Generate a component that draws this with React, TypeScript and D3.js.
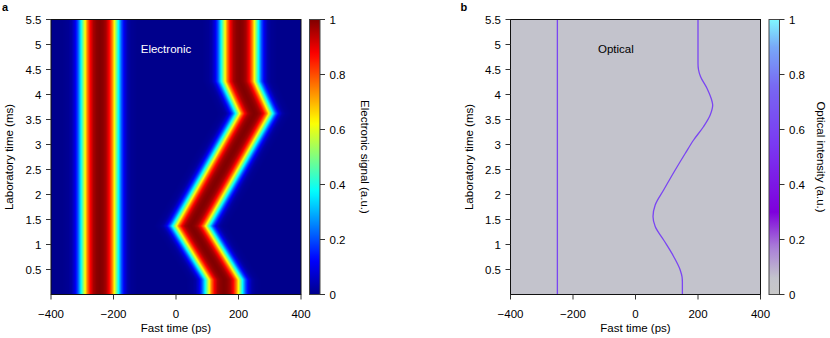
import React, { useMemo } from 'react';
import * as d3 from 'd3';

// axis ticks
const X_TICKS = [-400, -200, 0, 200, 400];
const Y_TICKS = [0.5, 1, 1.5, 2, 2.5, 3, 3.5, 4, 4.5, 5, 5.5];
const CB_TICKS = [0, 0.2, 0.4, 0.6, 0.8, 1];

// electronic signal: fixed pulse + moving pulse (lab time ms -> fast time ps)
const ELEC_FIXED = -244;
const ELEC_T = [0, 0.3, 1.37, 3.62, 4.26, 5.5];
const ELEC_X = [153, 153, 48, 251, 204, 204];
// pulse profile read across the trace (offset ps -> signal)
const PROFILE_DT = [0, 10, 20, 30, 40, 50, 60, 70, 80, 90, 100, 120];
const PROFILE_V = [1, 0.99, 0.96, 0.88, 0.75, 0.56, 0.37, 0.2, 0.09, 0.03, 0.01, 0];

// optical traces
const OPT_FIXED_T = [0, 5.5];
const OPT_FIXED_X = [-250, -250];
const OPT_T = [0, 0.25, 0.35, 0.49, 0.76, 1.09, 1.36, 1.56, 1.79, 2.09, 2.5, 2.82, 3.09, 3.36, 3.59, 3.79, 3.86, 4.12, 4.36, 4.5, 4.62, 5.5];
const OPT_X = [150, 150, 149, 143, 122, 90, 63, 56, 63, 90, 128, 159, 186, 218, 239, 247, 245, 229, 208, 201.5, 200, 200];
const OPT_BG = 0.06;
const OPT_LINE = 0.6;

// colour maps
const JET_STOPS = [0, 0.125, 0.375, 0.625, 0.875, 1];
const JET_COLORS = ['#00008c', '#0000ff', '#00ffff', '#ffff00', '#ff0000', '#800000'];
const OPT_STOPS = [0, 0.06, 0.17, 0.3, 0.55, 0.75, 0.9, 1];
const OPT_COLORS = ['#c8c8c8', '#c3c3cc', '#aa80d8', '#7e00dc', '#7a3af2', '#7866f2', '#78a8f8', '#80f8ff'];

const FONT = 'Liberation Sans, Arial, Helvetica, sans-serif';
const FS = 11.5;

const jet = d3.scaleLinear<string>().domain(JET_STOPS).range(JET_COLORS).interpolate(d3.interpolateRgb).clamp(true);
const optc = d3.scaleLinear<string>().domain(OPT_STOPS).range(OPT_COLORS).interpolate(d3.interpolateRgb).clamp(true);

const top = 19.5, bottom = 294.5;
const y = d3.scaleLinear().domain([0, 5.5]).range([bottom, top]);

function useHeatmap(x: d3.ScaleLinear<number, number>) {
  return useMemo(() => {
    const [x0, x1] = x.range();
    const w = Math.round(x1 - x0), h = Math.round(bottom - top);
    const canvas = document.createElement('canvas');
    canvas.width = w; canvas.height = h;
    const ctx = canvas.getContext('2d');
    if (!ctx) return '';
    const img = ctx.createImageData(w, h);
    const centre = d3.scaleLinear().domain(ELEC_T).range(ELEC_X).clamp(true);
    const prof = d3.scaleLinear().domain(PROFILE_DT).range(PROFILE_V).clamp(true);
    for (let j = 0; j < h; j++) {
      const t = y.invert(top + j + 0.5);
      const c = centre(t);
      for (let i = 0; i < w; i++) {
        const fx = x.invert(x0 + i + 0.5);
        const v = Math.max(prof(Math.abs(fx - ELEC_FIXED)), prof(Math.abs(fx - c)));
        const col = d3.rgb(jet(v));
        const k = (j * w + i) * 4;
        img.data[k] = col.r; img.data[k + 1] = col.g; img.data[k + 2] = col.b; img.data[k + 3] = 255;
      }
    }
    ctx.putImageData(img, 0, 0);
    return canvas.toDataURL();
  }, [x]);
}

function Axes({ x, id }: { x: d3.ScaleLinear<number, number>; id: string }) {
  const [x0, x1] = x.range();
  return (
    <g fontFamily={FONT} fontSize={FS} fill="#000">
      <rect x={x0} y={top} width={x1 - x0} height={bottom - top} fill="none" stroke="#111" strokeWidth={1} />
      {X_TICKS.map(v => (
        <g key={id + 'x' + v}>
          <line x1={x(v)} x2={x(v)} y1={bottom} y2={bottom + 5} stroke="#333" />
          <text x={x(v)} y={317.5} textAnchor="middle">{d3.format('')(v)}</text>
        </g>
      ))}
      {Y_TICKS.map(v => (
        <g key={id + 'y' + v}>
          <line x1={x0 - 5} x2={x0} y1={y(v)} y2={y(v)} stroke="#333" />
          <text x={x0 - 9.5} y={y(v)} dy="0.36em" textAnchor="end">{v}</text>
        </g>
      ))}
      <text x={(x0 + x1) / 2} y={331.5} textAnchor="middle">Fast time (ps)</text>
      <text transform={`translate(${x0 - 38},${(top + bottom) / 2}) rotate(-90)`} textAnchor="middle">Laboratory time (ms)</text>
    </g>
  );
}

function ColorBar({ left, right, cmap, id, label, labelX }: {
  left: number; right: number; cmap: (v: number) => string; id: string; label: string; labelX: number;
}) {
  const c = d3.scaleLinear().domain([0, 1]).range([bottom, top]);
  const stops = d3.range(0, 1.0001, 0.02);
  return (
    <g fontFamily={FONT} fontSize={FS}>
      <defs>
        <linearGradient id={id} x1="0" y1="1" x2="0" y2="0">
          {stops.map(s => <stop key={s} offset={s} stopColor={cmap(s)} />)}
        </linearGradient>
      </defs>
      <rect x={left} y={top} width={right - left} height={bottom - top} fill={`url(#${id})`} stroke="#444" strokeWidth={1} />
      {CB_TICKS.map(v => (
        <g key={id + v}>
          <line x1={right} x2={right + 5} y1={c(v)} y2={c(v)} stroke="#333" />
          <text x={right + 9.5} y={c(v)} dy="0.36em">{v}</text>
        </g>
      ))}
      <text transform={`translate(${labelX},${(top + bottom) / 2}) rotate(90)`} textAnchor="middle">{label}</text>
    </g>
  );
}

export default function App() {
  const xa = useMemo(() => d3.scaleLinear().domain([-400, 400]).range([51, 301]), []);
  const xb = useMemo(() => d3.scaleLinear().domain([-400, 400]).range([510.5, 760.5]), []);
  const heat = useHeatmap(xa);

  const optLine = d3.line<number>()
    .x((_, i) => xb(OPT_X[i]))
    .y(t => y(t))
    .curve(d3.curveMonotoneY);
  const fixedLine = d3.line<number>()
    .x((_, i) => xb(OPT_FIXED_X[i]))
    .y(t => y(t));

  return (
    <svg width={830} height={338} style={{ position: 'absolute', left: 0, top: 0, background: '#fff' }}>
      {/* panel a */}
      <image href={heat} x={51} y={top} width={250} height={bottom - top} preserveAspectRatio="none" />
      <Axes x={xa} id="a" />
      <text x={166} y={52.5} textAnchor="middle" fill="#fff" fontFamily={FONT} fontSize={FS}>Electronic</text>
      <ColorBar left={309.5} right={320} cmap={jet} id="cbA" label="Electronic signal (a.u.)" labelX={361} />
      <text x={2} y={11} fontFamily={FONT} fontSize={11} fontWeight="bold">a</text>

      {/* panel b */}
      <rect x={510.5} y={top} width={250} height={bottom - top} fill={optc(OPT_BG)} />
      <path d={fixedLine(OPT_FIXED_T) || ''} fill="none" stroke={optc(OPT_LINE)} strokeWidth={1.3} />
      <path d={optLine(OPT_T) || ''} fill="none" stroke={optc(OPT_LINE)} strokeWidth={1.3} />
      <Axes x={xb} id="b" />
      <text x={598} y={52.5} fill="#000" fontFamily={FONT} fontSize={FS}>Optical</text>
      <ColorBar left={769} right={779.5} cmap={optc} id="cbB" label="Optical intensity (a.u.)" labelX={816.5} />
      <text x={460.5} y={10.5} fontFamily={FONT} fontSize={11} fontWeight="bold">b</text>
    </svg>
  );
}
